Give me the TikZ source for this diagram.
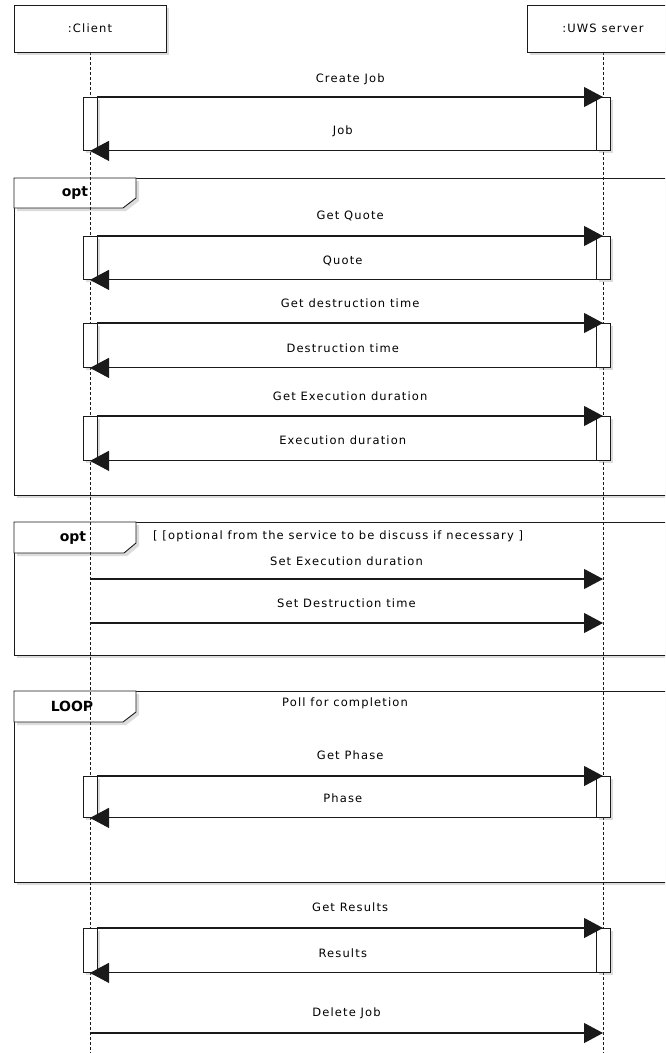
\documentclass[tikz,border=0pt]{standalone}
\usepackage{fontspec}
\setmainfont{DejaVu Sans}
\newfontfamily\seqfont{DejaVu Sans}[LetterSpace=10]
\usepackage{tikz}
\usetikzlibrary{arrows.meta, shadows}
\usepackage{xcolor}
\definecolor{inkblack}{HTML}{1A1A1A}
\definecolor{shadowgray}{HTML}{8C8C8C}

\begin{document}
\begin{tikzpicture}[
  x=1pt, y=-1pt,
  boxshadow/.style={drop shadow={shadow xshift=3pt, shadow yshift=-3pt,
    opacity=0.3, fill=shadowgray}},
  actor/.style={rectangle, draw=inkblack, line width=0.9pt, fill=white,
    minimum width=152pt, minimum height=47pt, inner sep=0pt, boxshadow,
    font=\seqfont\fontsize{11.5}{13}\selectfont},
  fragment/.style={rectangle, draw=inkblack, line width=0.9pt, fill=white,
    anchor=north west, minimum width=680pt, inner sep=0pt, boxshadow},
  tagshape/.style={draw=inkblack, line width=0.9pt, fill=white, boxshadow},
  tagtext/.style={inner sep=0pt, font=\bfseries\fontsize{14}{16}\selectfont},
  act/.style={rectangle, draw=inkblack, line width=0.9pt, fill=white,
    anchor=north, minimum width=14pt, inner sep=0pt, boxshadow},
  msg/.style={font=\seqfont\fontsize{11.5}{13}\selectfont, inner sep=0pt,
    text height=8.5pt, text depth=2pt},
  arr/.style={-{Triangle[length=19pt, width=20pt]}, line width=1.1pt, draw=inkblack},
  life/.style={dash pattern=on 3pt off 2pt, line width=0.8pt, draw=inkblack},
]
  \useasboundingbox (0,0) rectangle (665,1053);
  \clip (0,0) rectangle (665,1053);

  % combined fragments
  \node[fragment, minimum height=317pt] (opt1) at (14,178) {};
  \draw[tagshape] (opt1.north west) -- ++(122,0) -- ++(0,20) -- ++(-13,10) -- ++(-109,0) -- cycle;
  \node[tagtext] (opt1tag) at (75,193) {opt};
  \node[fragment, minimum height=133pt] (opt2) at (14,522) {};
  \draw[tagshape] (opt2.north west) -- ++(122,0) -- ++(0,21) -- ++(-12,10) -- ++(-110,0) -- cycle;
  \node[tagtext] (opt2tag) at (73,538) {opt};
  \node[msg, anchor=west] (opt2guard) at (153,536)
    {[ [optional from the service to be discuss if necessary ]};
  \node[fragment, minimum height=191pt] (loop) at (14,691) {};
  \draw[tagshape] (loop.north west) -- ++(122,0) -- ++(0,21) -- ++(-13,10) -- ++(-109,0) -- cycle;
  \node[tagtext] (looptag) at (72,706) {LOOP};
  \node[msg] (loopguard) at (345,703) {Poll for completion};

  % participants and lifelines
  \draw[life] (90,52) -- (90,1053);
  \draw[life] (603,52) -- (603,1053);
  \node[actor] (client) at (90,28.5) {:Client};
  \node[actor] (server) at (603,28.5) {:UWS server};

  % activations
  \node[act, minimum height=53pt] (cJob) at (90,97) {};
  \node[act, minimum height=53pt] (sJob) at (603,97) {};
  \node[act, minimum height=43pt] (cQuote) at (90,236) {};
  \node[act, minimum height=43pt] (sQuote) at (603,236) {};
  \node[act, minimum height=44pt] (cDestr) at (90,323) {};
  \node[act, minimum height=44pt] (sDestr) at (603,323) {};
  \node[act, minimum height=44pt] (cExec) at (90,416) {};
  \node[act, minimum height=44pt] (sExec) at (603,416) {};
  \node[act, minimum height=41pt] (cPhase) at (90,776) {};
  \node[act, minimum height=41pt] (sPhase) at (603,776) {};
  \node[act, minimum height=44pt] (cRes) at (90,928) {};
  \node[act, minimum height=44pt] (sRes) at (603,928) {};

  \coordinate (cSetExec) at (90,579);
  \coordinate (sSetExec) at (603,579);
  \coordinate (cSetDestr) at (90,623);
  \coordinate (sSetDestr) at (603,623);
  \coordinate (cDelete) at (90,1033);
  \coordinate (sDelete) at (603,1033);

  % messages
  \draw[arr] (cJob.north east) -- node[msg, yshift=18pt] (mCreate) {Create Job} (sJob.north);
  \draw[arr] (sJob.south west) -- node[msg, yshift=20pt] (mJob) {Job} (cJob.south);
  \draw[arr] (cQuote.north east) -- node[msg, yshift=20pt] (mGetQuote) {Get Quote} (sQuote.north);
  \draw[arr] (sQuote.south west) -- node[msg, yshift=19pt] (mQuote) {Quote} (cQuote.south);
  \draw[arr] (cDestr.north east) -- node[msg, yshift=19pt] (mGetDestr) {Get destruction time} (sDestr.north);
  \draw[arr] (sDestr.south west) -- node[msg, yshift=19pt] (mDestr) {Destruction time} (cDestr.south);
  \draw[arr] (cExec.north east) -- node[msg, yshift=19pt] (mGetExec) {Get Execution duration} (sExec.north);
  \draw[arr] (sExec.south west) -- node[msg, yshift=20pt] (mExec) {Execution duration} (cExec.south);
  \draw[arr] (cSetExec) -- node[msg, yshift=17pt] (mSetExec) {Set Execution duration} (sSetExec);
  \draw[arr] (cSetDestr) -- node[msg, yshift=19pt] (mSetDestr) {Set Destruction time} (sSetDestr);
  \draw[arr] (cPhase.north east) -- node[msg, yshift=20pt] (mGetPhase) {Get Phase} (sPhase.north);
  \draw[arr] (sPhase.south west) -- node[msg, yshift=19pt] (mPhase) {Phase} (cPhase.south);
  \draw[arr] (cRes.north east) -- node[msg, yshift=20pt] (mGetRes) {Get Results} (sRes.north);
  \draw[arr] (sRes.south west) -- node[msg, yshift=19pt] (mRes) {Results} (cRes.south);
  \draw[arr] (cDelete) -- node[msg, yshift=20pt] (mDelete) {Delete Job} (sDelete);
\end{tikzpicture}
\end{document}
